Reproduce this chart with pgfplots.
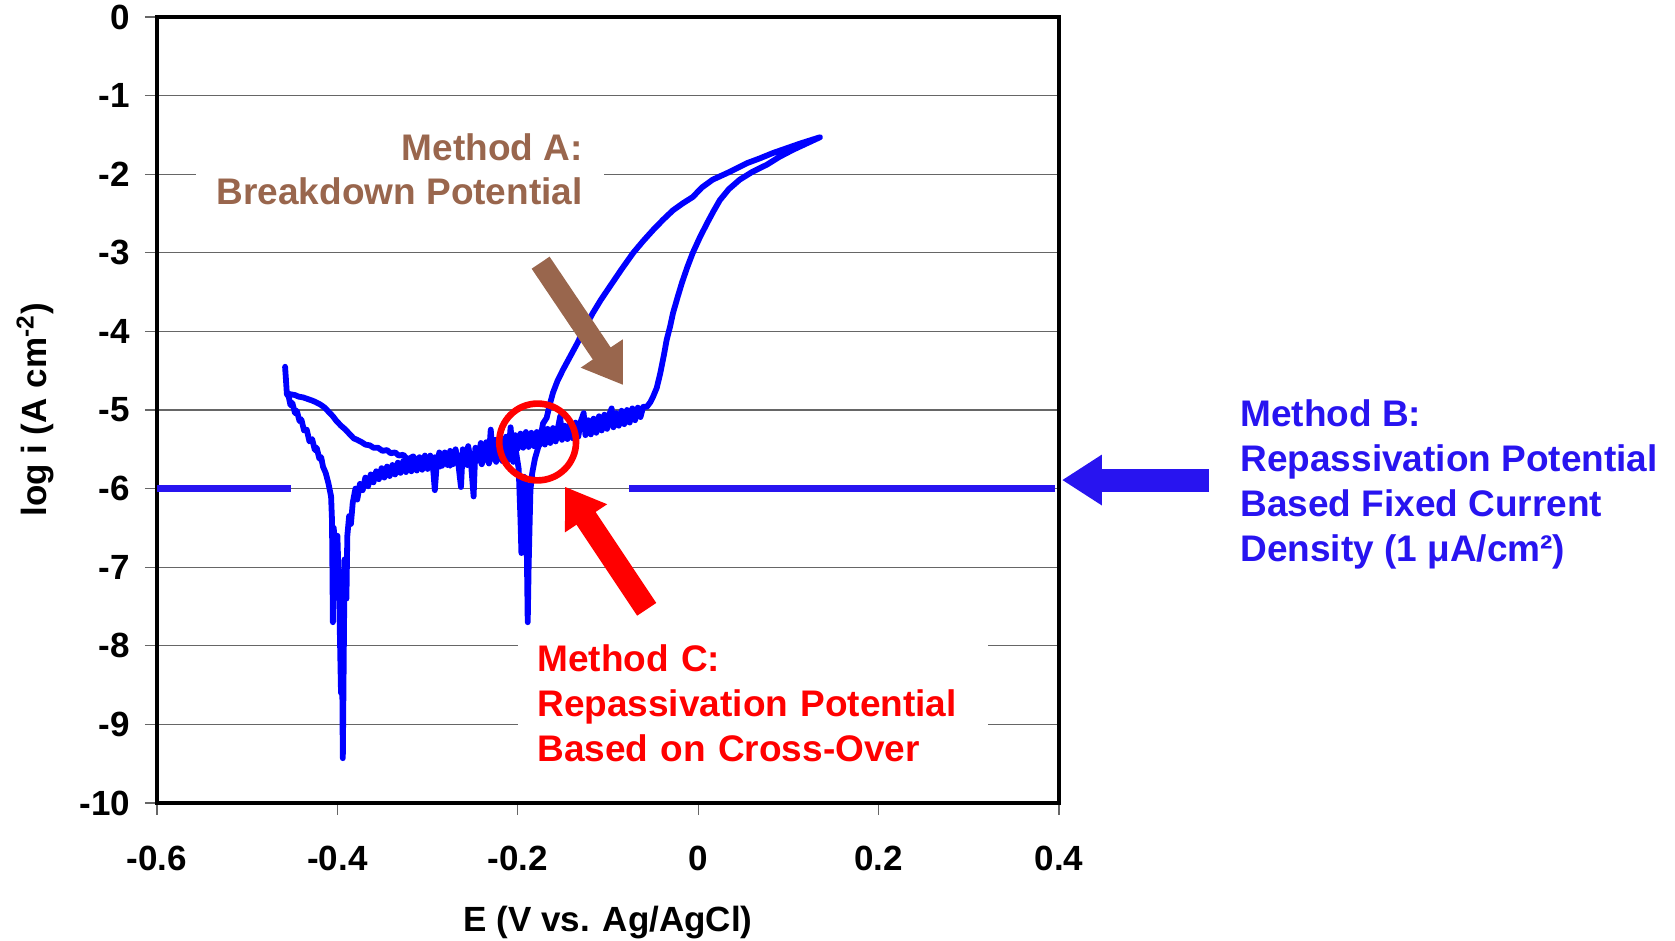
\documentclass[border=0pt]{standalone}
\usepackage{pgfplots}
\pgfplotsset{compat=1.18}
\usepackage{fontspec}
\setmainfont{Liberation Sans}
\usetikzlibrary{arrows.meta}
\definecolor{curveblue}{RGB}{0,0,255}
\definecolor{bblue}{RGB}{40,20,240}
\definecolor{abrown}{RGB}{153,102,77}
\definecolor{cred}{RGB}{255,0,0}
\begin{document}
\begin{tikzpicture}
\begin{axis}[
  at={(0pt,0pt)}, anchor=south west,
  scale only axis, width=451pt, height=393pt,
  xmin=-0.6, xmax=0.4, ymin=-10, ymax=0,
  clip=false,
  xtick={-0.6,-0.4,-0.2,0,0.2,0.4},
  xticklabels={-0.6,-0.4,-0.2,0,0.2,0.4},
  ytick={-10,-9,-8,-7,-6,-5,-4,-3,-2,-1,0},
  yticklabels={-10,-9,-8,-7,-6,-5,-4,-3,-2,-1,0},
  tick pos=left, tick align=outside, major tick length=6pt,
  tick style={black!60, line width=0.6pt},
  ymajorgrids, grid style={black!60, line width=0.6pt},
  axis line style={black, line width=1.8pt},
  ticklabel style={font=\bfseries\fontsize{17.5}{20}\selectfont},
  xticklabel style={yshift=-12pt},
  yticklabel style={xshift=-4pt},
  xlabel={E (V vs. Ag/AgCl)},
  ylabel={log i (A cm\textsuperscript{-2})},
  label style={font=\bfseries\fontsize{17.5}{20}\selectfont},
  x label style={at={(axis description cs:0.5,-0.1525)}, anchor=center},
  y label style={at={(axis description cs:-0.1353,0.5)}, anchor=center, rotate=0},
]
% Method B fixed current density lines
\addplot[bblue, line width=3.5pt, forget plot] coordinates {(-0.6,-6) (-0.4518,-6)};
\addplot[bblue, line width=3.5pt, forget plot] coordinates {(-0.0764,-6) (0.3956,-6)};
% cyclic polarization curve
\addplot[curveblue, line width=2.9pt, line join=round, line cap=round] table {
E logi
-0.458 -4.45
-0.457 -4.62
-0.456 -4.80
-0.454 -4.83
-0.452 -4.94
-0.450 -4.91
-0.447 -5.04
-0.445 -5.01
-0.442 -5.14
-0.440 -5.12
-0.437 -5.26
-0.434 -5.25
-0.431 -5.40
-0.428 -5.37
-0.425 -5.51
-0.423 -5.48
-0.420 -5.62
-0.418 -5.60
-0.416 -5.72
-0.413 -5.80
-0.410 -5.93
-0.407 -6.10
-0.406 -6.40
-0.405 -7.70
-0.404 -6.50
-0.402 -7.20
-0.400 -6.60
-0.398 -7.40
-0.396 -8.60
-0.395 -7.80
-0.394 -9.43
-0.393 -8.20
-0.392 -6.90
-0.390 -7.40
-0.389 -6.60
-0.387 -6.35
-0.385 -6.45
-0.383 -6.18
-0.380 -6.00
-0.378 -6.14
-0.375 -5.94
-0.372 -6.02
-0.369 -5.86
-0.366 -5.97
-0.363 -5.82
-0.360 -5.92
-0.357 -5.78
-0.354 -5.88
-0.351 -5.74
-0.348 -5.86
-0.345 -5.72
-0.342 -5.84
-0.339 -5.70
-0.336 -5.82
-0.333 -5.67
-0.330 -5.80
-0.327 -5.65
-0.324 -5.79
-0.321 -5.63
-0.318 -5.78
-0.315 -5.62
-0.312 -5.77
-0.309 -5.60
-0.306 -5.76
-0.303 -5.58
-0.300 -5.75
-0.297 -5.58
-0.294 -5.73
-0.292 -6.02
-0.290 -5.71
-0.287 -5.54
-0.284 -5.71
-0.281 -5.54
-0.278 -5.70
-0.275 -5.52
-0.272 -5.69
-0.269 -5.50
-0.266 -5.68
-0.263 -5.98
-0.261 -5.50
-0.258 -5.66
-0.255 -5.46
-0.252 -5.66
-0.249 -6.10
-0.247 -5.48
-0.244 -5.64
-0.241 -5.42
-0.238 -5.62
-0.235 -5.41
-0.232 -5.59
-0.230 -5.25
-0.228 -5.56
-0.225 -5.38
-0.222 -5.56
-0.219 -5.36
-0.216 -5.54
-0.213 -5.34
-0.210 -5.52
-0.208 -5.22
-0.206 -5.50
-0.203 -5.32
-0.200 -5.49
-0.197 -5.30
-0.194 -5.48
-0.191 -5.28
-0.188 -5.47
-0.185 -5.29
-0.182 -5.46
-0.179 -5.28
-0.176 -5.45
-0.173 -5.26
-0.170 -5.44
-0.167 -5.24
-0.164 -5.42
-0.161 -5.23
-0.158 -5.40
-0.155 -5.20
-0.153 -5.08
-0.151 -5.38
-0.148 -5.20
-0.145 -5.37
-0.142 -5.18
-0.139 -5.36
-0.136 -5.16
-0.133 -5.34
-0.130 -5.14
-0.127 -5.04
-0.125 -5.32
-0.122 -5.13
-0.119 -5.31
-0.116 -5.11
-0.113 -5.29
-0.110 -5.08
-0.107 -5.26
-0.104 -5.06
-0.101 -5.24
-0.098 -5.04
-0.096 -4.98
-0.094 -5.22
-0.091 -5.04
-0.088 -5.20
-0.085 -5.01
-0.082 -5.18
-0.079 -5.00
-0.076 -5.16
-0.073 -4.98
-0.070 -5.13
-0.067 -4.97
-0.064 -5.09
-0.061 -4.96
-0.057 -4.96
-0.053 -4.90
-0.050 -4.83
-0.046 -4.72
-0.042 -4.53
-0.038 -4.30
-0.035 -4.11
-0.031 -3.93
-0.028 -3.77
-0.023 -3.57
-0.018 -3.38
-0.012 -3.18
-0.006 -3.00
0.002 -2.80
0.010 -2.62
0.017 -2.47
0.024 -2.33
0.034 -2.19
0.046 -2.07
0.060 -1.97
0.076 -1.88
0.090 -1.78
0.105 -1.69
0.120 -1.61
0.135 -1.53
0.113 -1.61
0.098 -1.67
0.083 -1.73
0.068 -1.80
0.054 -1.86
0.035 -1.97
0.016 -2.07
0.004 -2.17
-0.006 -2.29
-0.017 -2.37
-0.028 -2.46
-0.039 -2.58
-0.050 -2.71
-0.061 -2.85
-0.072 -3.00
-0.085 -3.21
-0.098 -3.43
-0.108 -3.60
-0.117 -3.77
-0.126 -3.96
-0.134 -4.15
-0.142 -4.32
-0.150 -4.49
-0.156 -4.63
-0.161 -4.78
-0.165 -4.95
-0.168 -5.10
-0.172 -5.17
-0.175 -5.35
-0.178 -5.50
-0.181 -5.62
-0.184 -5.80
-0.186 -6.02
-0.187 -6.50
-0.188 -7.00
-0.189 -7.70
-0.190 -6.80
-0.191 -6.00
-0.193 -5.85
-0.195 -6.10
-0.196 -6.82
-0.197 -6.40
-0.199 -5.75
-0.202 -5.53
-0.205 -5.66
-0.208 -5.50
-0.211 -5.64
-0.214 -5.50
-0.217 -5.65
-0.220 -5.51
-0.224 -5.66
-0.228 -5.52
-0.232 -5.68
-0.236 -5.54
-0.240 -5.69
-0.244 -5.55
-0.248 -5.69
-0.252 -5.56
-0.256 -5.70
-0.260 -5.56
-0.265 -5.71
-0.270 -5.58
-0.275 -5.71
-0.280 -5.58
-0.286 -5.72
-0.292 -5.60
-0.298 -5.70
-0.305 -5.61
-0.311 -5.67
-0.316 -5.59
-0.322 -5.63
-0.327 -5.57
-0.332 -5.58
-0.336 -5.54
-0.341 -5.55
-0.345 -5.51
-0.350 -5.52
-0.355 -5.48
-0.360 -5.48
-0.364 -5.45
-0.369 -5.44
-0.373 -5.41
-0.378 -5.38
-0.382 -5.36
-0.387 -5.30
-0.391 -5.25
-0.396 -5.20
-0.401 -5.14
-0.405 -5.08
-0.410 -5.02
-0.414 -4.97
-0.419 -4.93
-0.424 -4.90
-0.428 -4.88
-0.433 -4.86
-0.438 -4.84
-0.443 -4.83
-0.447 -4.81
-0.452 -4.80
-0.456 -4.79
};
% annotations
\node[fill=white, inner xsep=10.5pt, inner ysep=3pt, anchor=east, align=right, text=abrown,
  font=\bfseries\fontsize{18.5}{22}\selectfont] at (axis cs:-0.1044,-1.934)
  {Method A:\\Breakdown Potential};
\draw[abrown, line width=10.8pt, -{Triangle[length=19pt,width=24pt]}]
  (axis cs:-0.1747,-3.126) -- (axis cs:-0.0834,-4.682);
\draw[cred, line width=3.3pt] (axis cs:-0.178,-5.407) circle[radius=19.2pt];
\draw[cred, line width=11.5pt, -{Triangle[length=19pt,width=24pt]}]
  (axis cs:-0.0571,-7.536) -- (axis cs:-0.1477,-5.976);
\node[fill=white, inner xsep=9.5pt, inner ysep=3pt, anchor=west, align=left, text width=216pt, text=cred,
  font=\bfseries\fontsize{18.5}{22.5}\selectfont] at (axis cs:-0.1998,-8.728)
  {Method C:\\Repassivation Potential\\Based on Cross-Over};
\draw[bblue, line width=11.5pt, -{Triangle[length=20pt,width=24pt]}]
  (axis cs:0.5663,-5.891) -- (axis cs:0.4033,-5.891);
\node[inner sep=0pt, anchor=west, align=left, text=bblue,
  font=\bfseries\fontsize{18.5}{22.5}\selectfont] at (axis cs:0.6007,-5.944)
  {Method B:\\Repassivation Potential\\Based Fixed Current\\Density (1 μA/cm²)};
\end{axis}
\pgfresetboundingbox
\path[use as bounding box] (-78.5pt,-69pt) rectangle (759pt,401.5pt);
\end{tikzpicture}
\end{document}
